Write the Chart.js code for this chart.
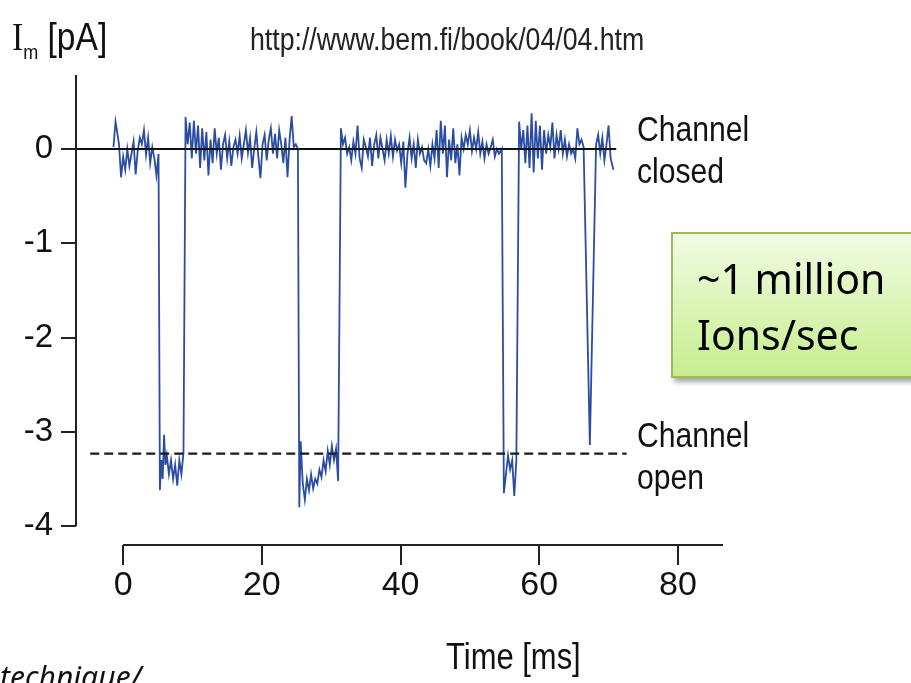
<!DOCTYPE html>
<html>
<head>
<meta charset="utf-8">
<script src="https://cdn.jsdelivr.net/npm/chart.js@4.4.1/dist/chart.umd.min.js"></script>
<style>
  body { margin: 0; width: 911px; height: 683px; overflow: hidden; background: #fff; }
  #wrap { position: relative; width: 911px; height: 683px; }
  .lbl { position: absolute; font-family: "Liberation Sans Narrow", "Liberation Sans", Arial, sans-serif; color: #111; white-space: nowrap; transform: scaleX(0.86); transform-origin: left top; }
  #box {
    position: absolute; left: 671px; top: 232px; width: 270px; height: 146px;
    background: linear-gradient(#f1fbe3, #c6ee8e);
    border: 2px solid #9bbb59; box-shadow: 3px 4px 5px rgba(0,0,0,0.35);
    font-family: "Noto Sans", "Open Sans", sans-serif; font-size: 41px; line-height: 56px; color: #000;
    padding: 16px 0 0 24px; box-sizing: border-box;
  }
</style>
</head>
<body>
<div id="wrap">
  <canvas id="chart" width="911" height="683"></canvas>
  <div class="lbl" style="left:12px;top:14px;font-size:39px;"><span style="font-family:'Liberation Serif',serif;">I</span><sub style="font-size:21px;">m</sub> [pA]</div>
  <div class="lbl" style="left:250px;top:22px;font-size:31px;color:#222;">http://www.bem.fi/book/04/04.htm</div>
  <div class="lbl" style="left:637px;top:108px;font-size:35px;line-height:42px;">Channel<br>closed</div>
  <div class="lbl" style="left:637px;top:414px;font-size:35px;line-height:42px;">Channel<br>open</div>
  <div class="lbl" style="left:446px;top:636px;font-size:36px;">Time [ms]</div>
  <div class="lbl" style="left:0px;top:656px;font-size:30px;font-style:italic;font-family:'Noto Sans','Open Sans',sans-serif;transform:none;">technique/</div>
  <div id="box">~1 million<br>Ions/sec</div>
</div>
<script>
// single channel recording
const timeMs = [
  -1.4, -1.1, -0.9, -0.6, -0.3, 0.0, 0.3, 0.6, 0.9, 1.2, 1.5, 1.8, 2.1, 2.4, 2.7, 3.0, 3.3, 3.6, 3.9, 4.2, 4.5, 4.8, 5.1,
  5.3, 5.5, 5.7, 5.9, 6.1, 6.3, 6.6, 6.9, 7.2, 7.5, 7.8, 8.1, 8.4, 8.7,
  9.0, 9.3, 9.6, 9.9, 10.2, 10.5, 10.8, 11.1, 11.4, 11.7, 12.0, 12.3, 12.6, 12.9, 13.2, 13.5, 13.8, 14.1, 14.4, 14.7,
  15.0, 15.3, 15.6, 15.9, 16.2, 16.5, 16.8, 17.1, 17.4, 17.7, 18.0, 18.3, 18.6, 18.9, 19.2, 19.5, 19.8, 20.1, 20.4,
  20.7, 21.0, 21.3, 21.6, 21.9, 22.2, 22.5, 22.8, 23.1, 23.4, 23.7, 24.0, 24.3, 24.6, 24.9, 25.2,
  25.4, 25.6, 25.9, 26.2, 26.5, 26.8, 27.1, 27.4, 27.7, 28.0, 28.3, 28.6, 28.9, 29.2, 29.5, 29.8, 30.1, 30.4, 30.7, 31.0,
  31.4, 31.7, 32.0, 32.3, 32.6, 32.9, 33.2, 33.5, 33.8, 34.1, 34.4, 34.7, 35.0, 35.3, 35.6, 35.9, 36.2, 36.5, 36.8,
  37.1, 37.4, 37.7, 38.0, 38.3, 38.6, 38.9, 39.2, 39.5, 39.8, 40.1, 40.4, 40.7, 41.0, 41.3, 41.6, 41.9, 42.2, 42.5,
  42.8, 43.1, 43.4, 43.7, 44.0, 44.3, 44.6, 44.9, 45.2, 45.5, 45.8, 46.1, 46.4, 46.7, 47.0, 47.3, 47.6, 47.9, 48.2,
  48.5, 48.8, 49.1, 49.4, 49.7, 50.0, 50.3, 50.6, 50.9, 51.2, 51.5, 51.8, 52.1, 52.4, 52.7, 53.0, 53.3, 53.6, 53.9,
  54.2, 54.6,
  54.9, 55.2, 55.5, 55.8, 56.1, 56.4, 56.7,
  57.1, 57.4, 57.7, 58.0, 58.3, 58.6, 58.9, 59.2, 59.5, 59.8, 60.1, 60.4, 60.7, 61.0, 61.3, 61.6, 61.9, 62.2, 62.5,
  62.8, 63.1, 63.4, 63.7, 64.0, 64.3, 64.6, 64.9, 65.2, 65.5, 65.8, 66.1, 66.4,
  67.3,
  68.2, 68.5, 68.8, 69.1, 69.4, 69.7, 70.0, 70.3, 70.7
];
const currentPA = [
  0.02, 0.29, 0.2, 0.05, -0.3, -0.08, -0.22, 0.0, -0.18, -0.05, 0.08, -0.27, -0.02, 0.12, 0.05, 0.2, -0.06, 0.12, -0.15, 0.02, -0.1, -0.28, -0.05,
  -3.62, -3.3, -3.5, -3.03, -3.35, -3.25, -3.45, -3.3, -3.5, -3.35, -3.57, -3.3, -3.45, -3.22,
  0.34, 0.05, 0.28, -0.1, 0.3, -0.05, 0.25, -0.2, 0.22, -0.12, 0.18, -0.28, 0.1, -0.15, 0.22, -0.05, 0.12, -0.22, 0.05, 0.15,
  -0.1, 0.08, -0.18, 0.02, 0.1, -0.05, 0.14, -0.1, 0.05, 0.2, -0.04, 0.12, -0.2, 0.0, 0.18, -0.08, -0.31, 0.05, 0.15,
  -0.12, 0.1, 0.22, -0.05, 0.16, -0.1, 0.2, 0.05, -0.15, 0.12, -0.3, 0.1, 0.35, 0.02, 0.05, 0.0,
  -3.8, -3.1, -3.55, -3.72, -3.5, -3.62, -3.45, -3.6, -3.5, -3.55, -3.4, -3.48, -3.3, -3.42, -3.2, -3.35, -3.15, -3.3, -3.18, -3.52,
  0.22, 0.05, 0.12, -0.05, 0.02, -0.12, 0.08, -0.05, 0.25, -0.1, -0.2, 0.1, 0.02, -0.08, 0.12, -0.18, 0.05, 0.15, -0.1,
  0.12, 0.0, -0.12, 0.1, -0.05, 0.14, -0.08, 0.1, -0.02, 0.05, -0.15, 0.08, -0.41, -0.05, 0.12, -0.1, 0.05, -0.2, 0.1,
  -0.05, 0.02, -0.12, -0.15, 0.0, -0.18, 0.05, -0.1, 0.2, -0.2, 0.3, -0.05, 0.25, -0.3, 0.1, -0.12, 0.22, -0.15, 0.05,
  -0.28, 0.12, 0.0, 0.15, 0.05, 0.2, -0.02, 0.12, 0.0, 0.18, -0.05, 0.08, -0.1, 0.05, -0.05, 0.02, 0.1, -0.08, 0.0,
  -0.05, 0.0,
  -3.65, -3.45, -3.25, -3.4, -3.3, -3.68, -3.3,
  0.29, 0.0, 0.2, -0.15, 0.25, -0.2, 0.38, -0.25, 0.3, -0.1, 0.25, -0.22, 0.2, -0.05, 0.15, 0.02, 0.28, -0.1, 0.15,
  0.0, 0.2, -0.05, 0.1, -0.08, 0.05, -0.05, 0.0, -0.1, 0.22, 0.05, 0.1, 0.02,
  -3.14,
  0.05, 0.15, -0.05, 0.12, -0.12, 0.05, 0.25, -0.1, -0.22
];

const closedLevel = 0;
const closedSpan = [-6.8, 71.1];
const openLevel = -3.23;
const openSpan = [-4.75, 72.6];

const xTicks = [0, 20, 40, 60, 80];
const yTicks = [0, -1, -2, -3, -4];

const labelFont = '"Liberation Sans Narrow", "Liberation Sans", Arial, sans-serif';

// R style axes: lines only between the outer ticks
const axisLines = {
  id: 'axisLines',
  afterDraw(chart){
    const {ctx, chartArea, scales} = chart;
    ctx.save();
    ctx.strokeStyle = '#222';
    ctx.lineWidth = 2;
    ctx.beginPath();
    ctx.moveTo(scales.x.getPixelForValue(xTicks[0]), chartArea.bottom);
    ctx.lineTo(chartArea.right, chartArea.bottom);
    ctx.moveTo(chartArea.left, chartArea.top);
    ctx.lineTo(chartArea.left, scales.y.getPixelForValue(yTicks[yTicks.length - 1]));
    ctx.stroke();
    ctx.restore();
  }
};

new Chart(document.getElementById('chart'), {
  type: 'line',
  data: {
    datasets: [
      {
        label: 'closed',
        data: closedSpan.map(t => ({x: t, y: closedLevel})),
        borderColor: '#111',
        borderWidth: 2,
        pointRadius: 0,
        order: 0
      },
      {
        label: 'open',
        data: openSpan.map(t => ({x: t, y: openLevel})),
        borderColor: '#1a1a1a',
        borderWidth: 2.2,
        borderDash: [9, 5],
        pointRadius: 0,
        order: 0
      },
      {
        label: 'Im',
        data: timeMs.map((t, i) => ({x: t, y: currentPA[i]})),
        borderColor: '#2a4ca3',
        borderWidth: 1.8,
        pointRadius: 0,
        tension: 0,
        order: 1
      }
    ]
  },
  options: {
    responsive: false,
    animation: false,
    layout: { padding: { left: 0, top: 75, right: 188, bottom: 0 } },
    plugins: { legend: { display: false }, tooltip: { enabled: false } },
    scales: {
      x: {
        type: 'linear',
        min: -6.8,
        max: 86.5,
        afterBuildTicks: s => { s.ticks = xTicks.map(v => ({value: v})); },
        afterFit: s => { s.height = 138; },
        border: { display: false },
        grid: { drawOnChartArea: false, tickLength: 20, color: '#222', lineWidth: 2 },
        ticks: { font: { family: labelFont, size: 34 }, color: '#111', padding: 0 }
      },
      y: {
        min: -4.2,
        max: 0.785,
        afterBuildTicks: s => { s.ticks = yTicks.map(v => ({value: v})); },
        afterFit: s => { s.width = 76; },
        border: { display: false },
        grid: { drawOnChartArea: false, tickLength: 15, color: '#222', lineWidth: 2 },
        ticks: { font: { family: labelFont, size: 33 }, color: '#111', padding: 8 }
      }
    }
  },
  plugins: [axisLines]
});
</script>
</body>
</html>
